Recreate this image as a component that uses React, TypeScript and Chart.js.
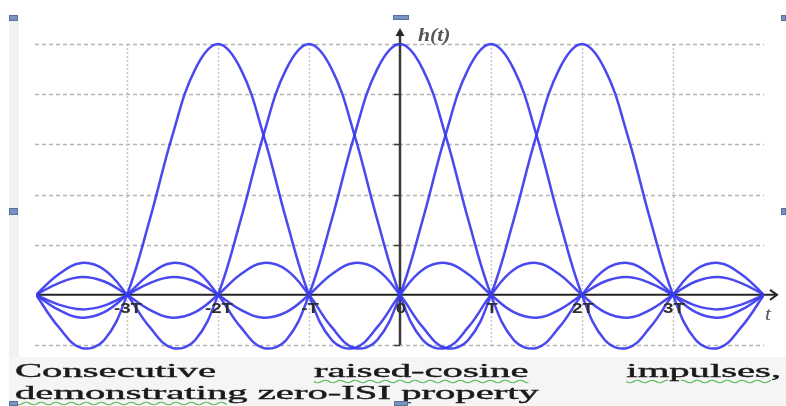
import React, { useEffect, useRef } from "react";
import { Chart, registerables } from "chart.js";

Chart.register(...registerables);

// time axis samples (in units of T)
const tValues = [
  -4, -3.75, -3.5, -3.25, -3, -2.75, -2.5, -2.25, -2, -1.75, -1.5, -1.25, -1, -0.75, -0.5, -0.25,
  0, 0.25, 0.5, 0.75, 1, 1.25, 1.5, 1.75, 2, 2.25, 2.5, 2.75, 3, 3.25, 3.5, 3.75, 4,
];

// pulse centred at -2T
const pulseMinus2T = [
  0, -0.129, -0.212, -0.18, 0, 0.3, 0.637, 0.9, 1, 0.9, 0.637, 0.3, 0, -0.18, -0.212, -0.129,
  0, 0.1, 0.127, 0.082, 0, -0.069, -0.091, -0.06, 0, 0.053, 0.071, 0.047, 0, -0.043, -0.058, -0.039, 0,
];
// pulse centred at -T
const pulseMinus1T = [
  0, 0.082, 0.127, 0.1, 0, -0.129, -0.212, -0.18, 0, 0.3, 0.637, 0.9, 1, 0.9, 0.637, 0.3,
  0, -0.18, -0.212, -0.129, 0, 0.1, 0.127, 0.082, 0, -0.069, -0.091, -0.06, 0, 0.053, 0.071, 0.047, 0,
];
// pulse centred at 0
const pulse0 = [
  0, -0.06, -0.091, -0.069, 0, 0.082, 0.127, 0.1, 0, -0.129, -0.212, -0.18, 0, 0.3, 0.637, 0.9,
  1, 0.9, 0.637, 0.3, 0, -0.18, -0.212, -0.129, 0, 0.1, 0.127, 0.082, 0, -0.069, -0.091, -0.06, 0,
];
// pulse centred at T
const pulse1T = [
  0, 0.047, 0.071, 0.053, 0, -0.06, -0.091, -0.069, 0, 0.082, 0.127, 0.1, 0, -0.129, -0.212, -0.18,
  0, 0.3, 0.637, 0.9, 1, 0.9, 0.637, 0.3, 0, -0.18, -0.212, -0.129, 0, 0.1, 0.127, 0.082, 0,
];
// pulse centred at 2T
const pulse2T = [
  0, -0.039, -0.058, -0.043, 0, 0.047, 0.071, 0.053, 0, -0.06, -0.091, -0.069, 0, 0.082, 0.127, 0.1,
  0, -0.129, -0.212, -0.18, 0, 0.3, 0.637, 0.9, 1, 0.9, 0.637, 0.3, 0, -0.18, -0.212, -0.129, 0,
];

const pulses = [pulseMinus2T, pulseMinus1T, pulse0, pulse1T, pulse2T];

const xTickValues = [-3, -2, -1, 0, 1, 2, 3];
const xTickLabels = ["-3T", "-2T", "-T", "0", "T", "2T", "3T"];
const yGridValues = [-0.2, 0.2, 0.4, 0.6, 0.8, 1.0];

const CURVE = "rgba(58,58,238,0.92)";

const axesPlugin = {
  id: "customAxes",
  beforeDatasetsDraw(chart: any) {
    const { ctx } = chart;
    const x = chart.scales.x;
    const y = chart.scales.y;
    const xl = x.getPixelForValue(-4);
    const xr = x.getPixelForValue(4);
    const x0 = x.getPixelForValue(0);
    const y0 = y.getPixelForValue(0);
    const yTop = y.getPixelForValue(1);
    const yBot = y.getPixelForValue(-0.2);
    ctx.save();
    // horizontal dotted grid
    ctx.strokeStyle = "#b5b5b5";
    ctx.lineWidth = 1.5;
    ctx.setLineDash([4, 3]);
    for (const v of yGridValues) {
      const py = Math.round(y.getPixelForValue(v)) + 0.5;
      ctx.beginPath();
      ctx.moveTo(xl - 1, py);
      ctx.lineTo(xr, py);
      ctx.stroke();
    }
    // vertical dotted grid
    ctx.strokeStyle = "#c2c2c2";
    ctx.setLineDash([2, 2]);
    for (const v of xTickValues) {
      if (v === 0) continue;
      const px = Math.round(x.getPixelForValue(v)) + 0.5;
      ctx.beginPath();
      ctx.moveTo(px, yTop);
      ctx.lineTo(px, yBot);
      ctx.stroke();
    }
    ctx.setLineDash([]);
    // x axis
    ctx.strokeStyle = "#262626";
    ctx.lineWidth = 2;
    ctx.beginPath();
    ctx.moveTo(xl, y0);
    ctx.lineTo(xr + 13, y0);
    ctx.stroke();
    ctx.beginPath();
    ctx.moveTo(xr + 6, y0 - 5);
    ctx.lineTo(xr + 13, y0);
    ctx.lineTo(xr + 6, y0 + 5);
    ctx.stroke();
    // y axis
    ctx.strokeStyle = "#3a3a3a";
    ctx.lineWidth = 2.5;
    ctx.beginPath();
    ctx.moveTo(x0, yBot);
    ctx.lineTo(x0, yTop - 12);
    ctx.stroke();
    ctx.fillStyle = "#2a2a2a";
    ctx.beginPath();
    ctx.moveTo(x0, yTop - 16);
    ctx.lineTo(x0 - 4.5, yTop - 8);
    ctx.lineTo(x0 + 4.5, yTop - 8);
    ctx.closePath();
    ctx.fill();
    ctx.lineWidth = 1.5;
    for (const v of yGridValues) {
      const py = Math.round(y.getPixelForValue(v)) + 0.5;
      ctx.beginPath();
      ctx.moveTo(x0 - 6, py);
      ctx.lineTo(x0, py);
      ctx.stroke();
    }
    ctx.restore();
  },
  afterDatasetsDraw(chart: any) {
    const { ctx } = chart;
    const x = chart.scales.x;
    const y = chart.scales.y;
    const y0 = y.getPixelForValue(0);
    const yTop = y.getPixelForValue(1);
    const xr = x.getPixelForValue(4);
    const x0 = x.getPixelForValue(0);
    ctx.save();
    ctx.fillStyle = "#2e2e2e";
    ctx.font = "bold 15px 'Liberation Sans'";
    ctx.textAlign = "center";
    ctx.textBaseline = "alphabetic";
    xTickValues.forEach((v, i) => {
      const px = x.getPixelForValue(v);
      ctx.save();
      ctx.translate(px + 1, y0 + 18);
      ctx.scale(1.25, 1);
      ctx.fillText(xTickLabels[i], 0, 0);
      ctx.restore();
    });
    ctx.fillStyle = "#555";
    ctx.font = "italic bold 18px 'Liberation Serif'";
    ctx.textAlign = "left";
    ctx.save();
    ctx.translate(x0 + 18, yTop - 3);
    ctx.scale(1.2, 1);
    ctx.fillText("h(t)", 0, 0);
    ctx.restore();
    ctx.font = "italic 18px 'Liberation Serif'";
    ctx.save();
    ctx.translate(xr + 1, y0 + 25);
    ctx.scale(1.2, 1);
    ctx.fillText("t", 0, 0);
    ctx.restore();
    ctx.restore();
  },
};

const wavy: React.CSSProperties = {
  textDecorationLine: "underline",
  textDecorationStyle: "wavy",
  textDecorationColor: "#5cb85c",
  textDecorationThickness: "1px",
  textUnderlineOffset: "2px",
};

const handle = (left: number, top: number, w: number, h: number): React.CSSProperties => ({
  position: "absolute",
  left,
  top,
  width: w,
  height: h,
  background: "#7893bf",
  boxSizing: "border-box",
  border: "1px solid #58729e",
});

export default function App() {
  const canvasRef = useRef<HTMLCanvasElement | null>(null);

  useEffect(() => {
    const canvas = canvasRef.current;
    if (!canvas) return;
    const chart = new Chart(canvas, {
      type: "line",
      data: {
        datasets: pulses.map((p) => ({
          data: tValues.map((t, i) => ({ x: t, y: p[i] })),
          borderColor: CURVE,
          borderWidth: 2.5,
          pointRadius: 0,
          fill: false,
          tension: 0.4,
        })),
      },
      options: {
        responsive: false,
        animation: false,
        events: [],
        layout: { padding: { left: 36, right: 22, top: 29, bottom: 56 } },
        scales: {
          x: { type: "linear", min: -4, max: 4, display: false },
          y: { type: "linear", min: -0.22, max: 1.06, display: false },
        },
        plugins: { legend: { display: false }, tooltip: { enabled: false } },
      },
      plugins: [axesPlugin],
    });
    return () => chart.destroy();
  }, []);

  return (
    <div style={{ position: "absolute", left: 0, top: 0, width: 786, height: 406, background: "#fff", overflow: "hidden" }}>
      <div style={{ position: "absolute", left: 9, top: 20, width: 10, height: 337, background: "#f2f2f4" }} />
      <div style={{ position: "absolute", left: 9, top: 357, width: 777, height: 49, background: "#f5f5f5" }} />
      <canvas ref={canvasRef} width={786} height={406} style={{ position: "absolute", left: 0, top: 0, width: 786, height: 406 }} />
      <div
        style={{
          position: "absolute",
          left: 15,
          top: 360,
          width: 358,
          font: "19px 'Liberation Serif'",
          lineHeight: "22px",
          textAlign: "justify",
          transform: "scaleX(2.14)",
          transformOrigin: "0 0",
          color: "#1a1a1a",
          WebkitTextStroke: "0.4px #1a1a1a",
          whiteSpace: "normal",
        }}
      >
        Consecutive <span style={wavy}>raised-cosine</span> <span style={wavy}>impulses</span>,{" "}
        <span style={wavy}>demonstrating</span> zero-ISI property
      </div>
      <div style={handle(9, 15, 9, 6)} />
      <div style={handle(393, 15, 16, 5)} />
      <div style={handle(781, 15, 5, 6)} />
      <div style={handle(9, 208, 9, 7)} />
      <div style={handle(781, 208, 5, 7)} />
      <div style={handle(9, 401, 9, 5)} />
      <div style={handle(394, 401, 14, 5)} />
    </div>
  );
}
